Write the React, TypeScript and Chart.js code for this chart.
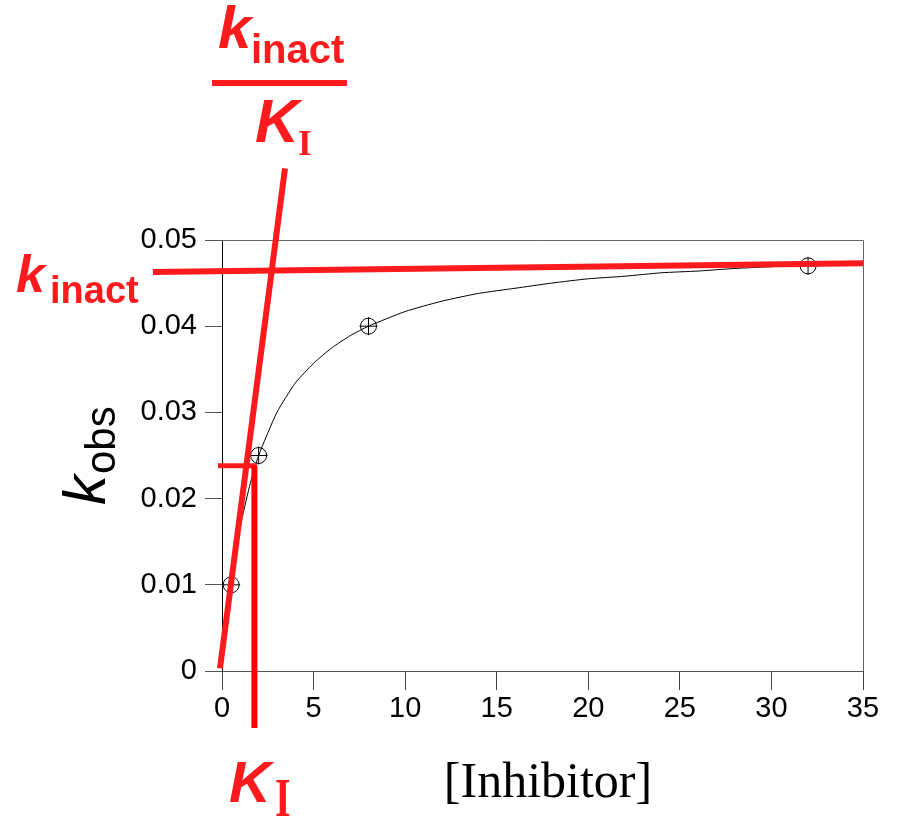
import React, { useEffect, useRef } from "react";
import { Chart, registerables } from "chart.js";

Chart.register(...registerables);

// ---- data ----
const xTickLabels = ["0", "5", "10", "15", "20", "25", "30", "35"];
const yTickLabels = ["0", "0.01", "0.02", "0.03", "0.04", "0.05"];

const pointX = [0.5, 2, 8, 32];
const pointY = [0.01, 0.025, 0.04, 0.047];

const curveX = [0.5, 1, 1.5, 2, 3, 4, 5, 6, 7, 8, 10, 12, 14, 16, 18, 20, 22, 24, 26, 28, 30, 32, 35];
const curveY = [0.01, 0.0167, 0.0214, 0.025, 0.03, 0.0334, 0.0357, 0.0375, 0.0389, 0.04, 0.0417, 0.0429, 0.0438, 0.0444, 0.045, 0.0455, 0.0458, 0.0462, 0.0464, 0.0467, 0.0469, 0.0471, 0.0473];

// red guide lines (kinact plateau, initial slope kinact/KI, KI marker)
const kinactLineX = [-3.77, 35];
const kinactLineY = [0.0463, 0.0473];
const slopeLineX = [-0.11, 3.44];
const slopeLineY = [0.0003, 0.0583];
const kiVertX = [1.77, 1.77];
const kiVertY = [0.0238, -0.0066];
const kiHorizX = [-0.22, 1.9];
const kiHorizY = [0.0238, 0.0238];

const RED = "rgb(255,26,30)";
const SANS = "'Liberation Sans', Arial, sans-serif";
const SERIF = "'Liberation Serif', 'Times New Roman', serif";

const zip = (xs: number[], ys: number[]) => xs.map((x, i) => ({ x, y: ys[i] }));

const textPlugin = {
  id: "annotText",
  beforeDatasetsDraw(chart: any) {
    const { ctx, chartArea } = chart;
    ctx.save();
    ctx.strokeStyle = "#666";
    ctx.lineWidth = 1;
    ctx.beginPath();
    ctx.moveTo(chartArea.left, chartArea.top + 0.5);
    ctx.lineTo(chartArea.right + 0.5, chartArea.top + 0.5);
    ctx.lineTo(chartArea.right + 0.5, chartArea.bottom);
    ctx.stroke();
    ctx.restore();
  },
  afterDraw(chart: any) {
    const ctx = chart.ctx as CanvasRenderingContext2D;
    ctx.save();
    ctx.textBaseline = "alphabetic";
    ctx.textAlign = "left";

    // top fraction kinact / KI
    ctx.fillStyle = RED;
    ctx.font = `italic bold 60px ${SANS}`;
    ctx.fillText("k", 218, 48);
    ctx.font = `bold 40px ${SANS}`;
    ctx.fillText("inact", 251, 63);
    ctx.fillRect(212, 80, 135, 6);
    ctx.font = `italic bold 61px ${SANS}`;
    ctx.fillText("K", 255, 142);
    ctx.font = `bold 35px ${SERIF}`;
    ctx.fillText("I", 298, 155);

    // left kinact
    ctx.font = `italic bold 52px ${SANS}`;
    ctx.fillText("k", 16, 292);
    ctx.font = `bold 38px ${SANS}`;
    ctx.fillText("inact", 50, 303);

    // bottom KI
    ctx.font = `italic bold 58px ${SANS}`;
    ctx.fillText("K", 229, 802);
    ctx.save();
    ctx.translate(275, 816);
    ctx.scale(1, 1.35);
    ctx.font = `bold 40px ${SERIF}`;
    ctx.fillText("I", 0, 0);
    ctx.restore();

    // x axis title
    ctx.fillStyle = "#000";
    ctx.font = `50px ${SERIF}`;
    ctx.textAlign = "center";
    ctx.fillText("[Inhibitor]", 548, 797);

    // y axis title k_obs rotated
    ctx.textAlign = "left";
    ctx.save();
    ctx.translate(105, 505);
    ctx.rotate(-Math.PI / 2);
    ctx.font = `italic 60px ${SANS}`;
    ctx.fillText("k", 0, 0);
    ctx.font = `42px ${SANS}`;
    ctx.fillText("obs", 31, 10);
    ctx.restore();

    ctx.restore();
  },
};

export default function App() {
  const ref = useRef<HTMLCanvasElement | null>(null);
  useEffect(() => {
    document.body.style.margin = "0";
    const canvas = ref.current!;
    const redLine = (xs: number[], ys: number[], w: number, color = RED) => ({
      data: zip(xs, ys),
      showLine: true,
      borderColor: color,
      backgroundColor: color,
      borderWidth: w,
      pointRadius: 0,
      clip: false as any,
      borderCapStyle: "butt" as const,
    });
    const chart = new Chart(canvas, {
      type: "scatter",
      data: {
        datasets: [
          redLine(kinactLineX, kinactLineY, 6),
          redLine(slopeLineX, slopeLineY, 6),
          redLine(kiVertX, kiVertY, 6, "rgb(255,0,0)"),
          redLine(kiHorizX, kiHorizY, 5),
          {
            data: zip(pointX, pointY),
            pointStyle: "cross",
            pointRadius: 9,
            borderColor: "#000",
            borderWidth: 1,
            showLine: false,
          },
          {
            data: zip(pointX, pointY),
            pointStyle: "circle",
            pointRadius: 8,
            borderColor: "#000",
            backgroundColor: "rgba(0,0,0,0)",
            borderWidth: 1,
            showLine: false,
          },
          {
            data: zip(curveX, curveY),
            showLine: true,
            pointRadius: 0,
            borderColor: "#000",
            borderWidth: 1,
            tension: 0.2,
          },
        ],
      },
      options: {
        animation: false,
        responsive: false,
        devicePixelRatio: 1,
        layout: { padding: { top: 240, right: 35, left: 0, bottom: 0 } },
        plugins: { legend: { display: false }, tooltip: { enabled: false } },
        scales: {
          x: {
            type: "linear",
            min: 0,
            max: 35,
            afterFit: (s: any) => {
              s.height = 148;
            },
            ticks: {
              stepSize: 5,
              color: "#000",
              padding: 2,
              font: { family: SANS, size: 29 },
              callback: (_v: any, i: number) => xTickLabels[i],
            },
            grid: { drawOnChartArea: false, drawTicks: true, tickLength: 19, color: "#444" },
            border: { color: "#555" },
          },
          y: {
            type: "linear",
            min: 0,
            max: 0.05,
            afterFit: (s: any) => {
              s.width = 222;
            },
            ticks: {
              stepSize: 0.01,
              color: "#000",
              padding: 8,
              font: { family: SANS, size: 29 },
              callback: (_v: any, i: number) => yTickLabels[i],
            },
            grid: { drawOnChartArea: false, drawTicks: true, tickLength: 17, color: "#555" },
            border: { color: "#000" },
          },
        },
      },
      plugins: [textPlugin],
    });
    return () => chart.destroy();
  }, []);
  return (
    <canvas ref={ref} width={898} height={819} style={{ display: "block", width: 898, height: 819 }} />
  );
}
